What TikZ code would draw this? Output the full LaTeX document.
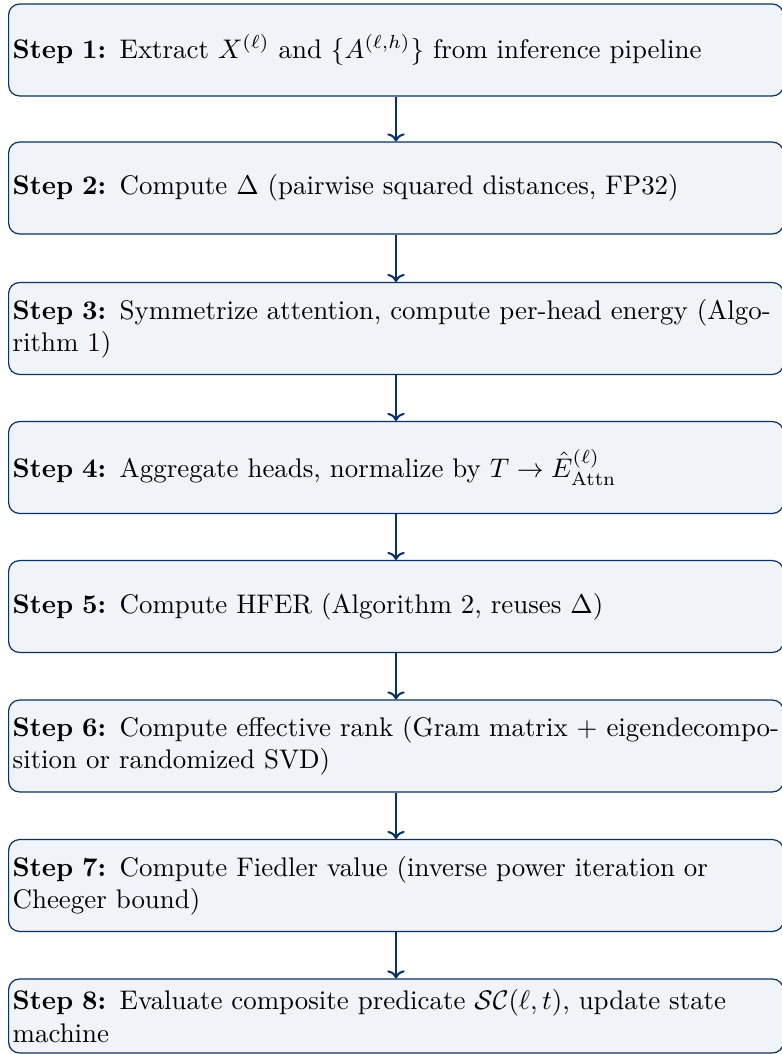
\documentclass[tikz,border=0pt]{standalone}
\usepackage{amsmath,amssymb}
\usetikzlibrary{arrows.meta}
\definecolor{navy}{RGB}{8,50,100}
\definecolor{boxfill}{RGB}{240,244,248}
\begin{document}
\begin{tikzpicture}[x=0.37175pt,y=-0.37175pt,
  stepbox/.style={draw=navy, fill=boxfill, line width=0.45pt, rounded corners=4pt,
    text width=285pt, inner xsep=1.5pt, inner ysep=0pt,
    minimum height=1.2cm, align=left},
  flow/.style={-{To[length=3pt,width=6.5pt]}, draw=navy, line width=0.75pt}]
\useasboundingbox (0,0) rectangle (782,1054);
\node[stepbox] (s1) at (396,50) {\textbf{Step 1:} Extract $X^{(\ell)}$ and $\{A^{(\ell,h)}\}$ from inference pipeline};
\node[stepbox] (s2) at (396,188) {\textbf{Step 2:} Compute $\Delta$ (pairwise squared distances, FP32)};
\node[stepbox] (s3) at (396,328.5) {\textbf{Step 3:} Symmetrize attention, compute per-head energy (Algo-\\rithm 1)};
\node[stepbox] (s4) at (396,467.5) {\textbf{Step 4:} Aggregate heads, normalize by $T \rightarrow \hat{E}^{(\ell)}_{\text{Attn}}$};
\node[stepbox] (s5) at (396,606.5) {\textbf{Step 5:} Compute HFER (Algorithm 2, reuses $\Delta$)};
\node[stepbox] (s6) at (396,746) {\textbf{Step 6:} Compute effective rank (Gram matrix + eigendecompo-\\sition or randomized SVD)};
\node[stepbox] (s7) at (396,885.5) {\textbf{Step 7:} Compute Fiedler value (inverse power iteration or Cheeger bound)};
\node[stepbox, minimum height=27.5pt] (s8) at (396,1016) {\textbf{Step 8:} Evaluate composite predicate $\mathcal{SC}(\ell,t)$, update state\\machine};
\foreach \a/\b in {s1/s2,s2/s3,s3/s4,s4/s5,s5/s6,s6/s7,s7/s8}
  \draw[flow] (\a) -- (\b);
\end{tikzpicture}
\end{document}
